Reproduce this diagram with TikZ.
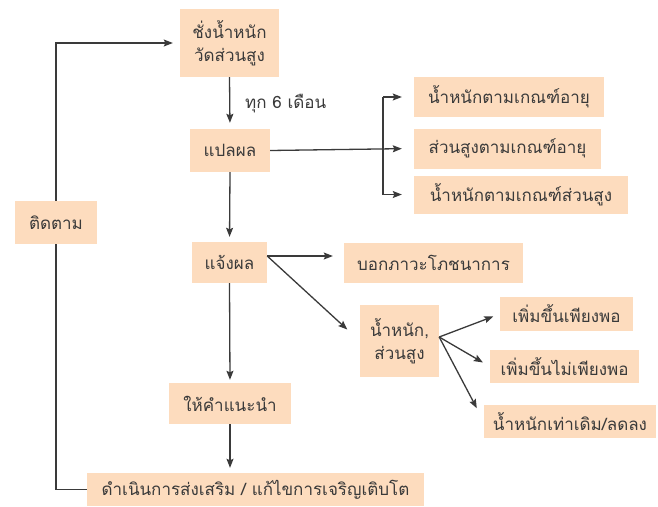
\documentclass[tikz,border=0pt]{standalone}
\usepackage{fontspec}
\newfontfamily\thaifont[Script=Thai]{Loma}
\usetikzlibrary{arrows.meta,calc}
\definecolor{peach}{HTML}{FDDCBE}
\definecolor{ink}{HTML}{3A3A3A}
\tikzset{
  thaitext/.style={font=\thaifont\fontsize{17}{23}\selectfont, text=ink},
  box/.style={thaitext, fill=peach, draw=none, inner sep=0pt, align=center},
  conn/.style={draw=ink, line width=1.3pt},
  arr/.style={conn, -{Stealth[length=9pt,width=7pt,inset=1.5pt]}},
}
\begin{document}
\begin{tikzpicture}[x=1pt,y=-1pt]
\useasboundingbox (0,0) rectangle (658,506);
\node[box, minimum width=99pt, minimum height=68pt] (A) at (229.5,43) {ชั่งน้ำหนัก\\วัดส่วนสูง};
\node[box, minimum width=80pt, minimum height=43pt] (B) at (230,150.5) {แปลผล};
\node[box, minimum width=190pt, minimum height=40pt] (C1) at (509,97) {น้ำหนักตามเกณฑ์อายุ};
\node[box, minimum width=187pt, minimum height=40pt] (C2) at (507.5,148.5) {ส่วนสูงตามเกณฑ์อายุ};
\node[box, minimum width=214pt, minimum height=38pt] (C3) at (521,194.5) {น้ำหนักตามเกณฑ์ส่วนสูง};
\node[box, minimum width=82pt, minimum height=43pt] (T) at (56,222.5) {ติดตาม};
\node[box, minimum width=75pt, minimum height=41pt] (D) at (229.5,262.5) {แจ้งผล};
\node[box, minimum width=179pt, minimum height=40pt] (E) at (433.5,263) {บอกภาวะโภชนาการ};
\node[box, minimum width=79pt, minimum height=72pt] (F) at (399.5,341) {น้ำหนัก,\\ส่วนสูง};
\node[box, minimum width=133pt, minimum height=34pt] (G1) at (566.5,314) {เพิ่มขึ้นเพียงพอ};
\node[box, minimum width=149pt, minimum height=33pt] (G2) at (564.5,366.5) {เพิ่มขึ้นไม่เพียงพอ};
\node[box, minimum width=172pt, minimum height=33pt] (G3) at (570,421.5) {น้ำหนักเท่าเดิม/ลดลง};
\node[box, minimum width=122pt, minimum height=41pt] (H) at (230,403.5) {ให้คำแนะนำ};
\node[box, minimum width=337pt, minimum height=33pt] (I) at (255.5,489.5) {ดำเนินการส่งเสริม / แก้ไขการเจริญเติบโต};
\node[thaitext, anchor=west, inner sep=0pt] (lab) at (245,104) {ทุก 6 เดือน};
% main vertical flow
\draw[arr, shorten >=6pt] (A.south) -- (B.north);
\draw[arr, shorten >=5pt] (B.south) -- (D.north);
\draw[arr, shorten >=3pt] (D.south) -- (H.north);
\draw[arr, shorten >=5pt] (H.south) -- (H.south |- I.north);
% bracket to C
\coordinate (br) at (383,148.5);
\draw[arr, shorten >=12pt] (B.east) -- (C2.west);
\draw[conn] (br |- C1.west) -- (br |- C3.west);
\draw[arr, shorten >=12pt] (br |- C1.west) -- (C1.west);
\draw[arr, shorten >=12pt] (br |- C3.west) -- (C3.west);
% from D
\coordinate (d1) at ($(D.east)+(0,-6.5)$);
\draw[arr, shorten >=11pt] (d1) -- (d1 -| E.west);
\draw[arr, shorten >=17pt] (d1) -- (F.west);
% from F
\coordinate (f1) at ($(F.east)+(0,-4)$);
\draw[arr, shorten >=7pt] (f1) -- (G1.west);
\draw[arr, shorten >=8pt] (f1) -- (G2.west);
\draw[arr, shorten >=15pt] (f1) -- (G3.west);
% feedback loop
\draw[conn] (I.west) -| (T.south);
\draw[arr, shorten >=7pt] (T.north) |- (A.west);
\end{tikzpicture}
\end{document}
